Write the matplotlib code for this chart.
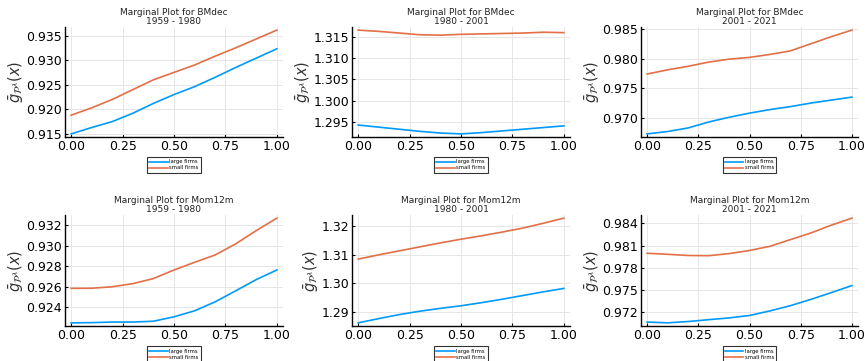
import matplotlib
matplotlib.use("Agg")
import matplotlib.pyplot as plt
from matplotlib.ticker import FormatStrFormatter

# x grid shared by all marginal curves
x = [0.0, 0.1, 0.2, 0.3, 0.4, 0.5, 0.6, 0.7, 0.8, 0.9, 1.0]

variables = ["BMdec", "BMdec", "BMdec", "Mom12m", "Mom12m", "Mom12m"]
periods = ["1959 - 1980", "1980 - 2001", "2001 - 2021"] * 2

large_firms = [
    [0.9150, 0.9163, 0.9175, 0.9192, 0.9212, 0.9230, 0.9246, 0.9265, 0.9285, 0.9304, 0.9323],
    [1.2942, 1.2937, 1.2932, 1.2927, 1.2923, 1.2921, 1.2924, 1.2928, 1.2932, 1.2936, 1.2940],
    [0.9673, 0.9677, 0.9683, 0.9693, 0.9701, 0.9708, 0.9714, 0.9719, 0.9725, 0.9730, 0.9735],
    [0.92246, 0.92248, 0.92254, 0.92254, 0.92262, 0.92305, 0.92364, 0.92452, 0.92560, 0.92670, 0.92764],
    [1.2861, 1.2876, 1.2890, 1.2902, 1.2912, 1.2921, 1.2932, 1.2944, 1.2957, 1.2970, 1.2982],
    [0.97063, 0.97052, 0.97070, 0.97095, 0.97119, 0.97152, 0.97214, 0.97285, 0.97370, 0.97462, 0.97557],
]
small_firms = [
    [0.9188, 0.9203, 0.9220, 0.9240, 0.9260, 0.9275, 0.9290, 0.9308, 0.9325, 0.9343, 0.9361],
    [1.3167, 1.3164, 1.3160, 1.3156, 1.3155, 1.3157, 1.3158, 1.3159, 1.3160, 1.3162, 1.3161],
    [0.9774, 0.9781, 0.9787, 0.9794, 0.9799, 0.9802, 0.9807, 0.9813, 0.9825, 0.9837, 0.9848],
    [0.92584, 0.92585, 0.92600, 0.92630, 0.92680, 0.92764, 0.92839, 0.92911, 0.93020, 0.93150, 0.93272],
    [1.3085, 1.3100, 1.3114, 1.3128, 1.3142, 1.3155, 1.3167, 1.3180, 1.3194, 1.3211, 1.3229],
    [0.97995, 0.97981, 0.97965, 0.97962, 0.97990, 0.98033, 0.98090, 0.98180, 0.98270, 0.98376, 0.98471],
]

yticks = [
    [0.915, 0.920, 0.925, 0.930, 0.935],
    [1.295, 1.300, 1.305, 1.310, 1.315],
    [0.970, 0.975, 0.980, 0.985],
    [0.924, 0.926, 0.928, 0.930, 0.932],
    [1.29, 1.30, 1.31, 1.32],
    [0.972, 0.975, 0.978, 0.981, 0.984],
]
yfmt = ["%.3f", "%.3f", "%.3f", "%.3f", "%.2f", "%.3f"]
xticks = [0.0, 0.25, 0.5, 0.75, 1.0]

W, H = 865, 361
fig = plt.figure(figsize=(W / 100, H / 100), dpi=100)

# axes boxes in pixels: left, right, top, bottom
lefts = [65, 352, 641]
rights = [283, 570, 858]
tops = [27, 215]
bottoms = [137, 326]

for i in range(6):
    r, c = divmod(i, 3)
    ax = fig.add_axes([lefts[c] / W, (H - bottoms[r]) / H,
                       (rights[c] - lefts[c]) / W, (bottoms[r] - tops[r]) / H])
    ax.plot(x, large_firms[i], color="#009AFA", lw=1.2, label="large firms")
    ax.plot(x, small_firms[i], color="#E36F47", lw=1.2, label="small firms")
    ax.margins(x=0.03, y=0.03)
    ax.set_xticks(xticks)
    ax.xaxis.set_major_formatter(FormatStrFormatter("%.2f"))
    ax.set_yticks(yticks[i])
    ax.yaxis.set_major_formatter(FormatStrFormatter(yfmt[i]))
    ax.grid(True, color="#e6e6e6", lw=0.7)
    ax.set_axisbelow(True)
    for s in ["top", "right"]:
        ax.spines[s].set_visible(False)
    for s in ["left", "bottom"]:
        ax.spines[s].set_linewidth(1.0)
    ax.tick_params(direction="in", length=2, labelsize=9, pad=2)
    ax.set_title("Marginal Plot for %s\n%s" % (variables[i], periods[i]),
                 fontsize=6.5, pad=2, linespacing=1.0, color="#222222")
    ax.set_ylabel(r"$\bar{g}_{\mathcal{P}^\lambda}(x)$", fontsize=10.5,
                  labelpad=0, color="#333333")
    leg = ax.legend(loc="upper center", bbox_to_anchor=(0.5, -0.16), fontsize=3.8,
                    frameon=True, fancybox=False, edgecolor="black",
                    handlelength=3.5, borderpad=0.4, labelspacing=0.2,
                    handletextpad=0.3)
    leg.get_frame().set_linewidth(0.8)

fig.savefig("out.png", dpi=100)
